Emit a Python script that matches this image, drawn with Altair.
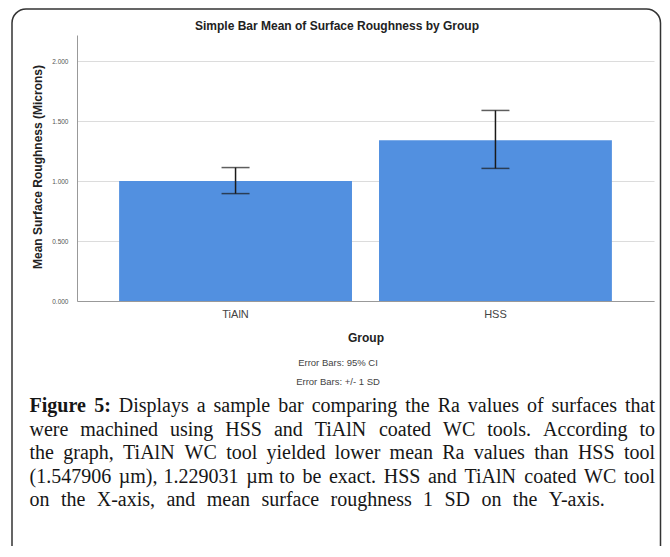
import altair as alt
import pandas as pd

# ---------------- data ----------------
groups = ["TiAlN", "HSS"]
means = [1.000, 1.340]
err_low = [0.895, 1.105]
err_high = [1.112, 1.588]
y_ticks = [0.0, 0.5, 1.0, 1.5, 2.0]

chart_title = "Simple Bar Mean of Surface Roughness by Group"
y_title = "Mean Surface Roughness (Microns)"
x_title = "Group"
notes = ["Error Bars: 95% CI", "Error Bars: +/- 1 SD"]

caption_lines = [
    "Figure 5: Displays a sample bar comparing the Ra values of surfaces that",
    "were machined using HSS and TiAlN coated WC tools. According to",
    "the graph, TiAlN WC tool yielded lower mean Ra values than HSS tool",
    "(1.547906 µm), 1.229031 µm to be exact. HSS and TiAlN coated WC tool",
    "on the X-axis, and mean surface roughness 1 SD on the Y-axis.",
]
bold_words = ["Figure", "5:"]

# ---------------- layout ----------------
W, H = 577, 266
PAD = {"left": 69, "top": 27, "right": 8, "bottom": 245}
BAR_COLOR = "#5290e0"
SANS = "Liberation Sans"
SERIF = "Liberation Serif"
CAP_FS = 20

# Times / Liberation Serif advance widths (1/1000 em)
REG = {" ": 250, "(": 333, ")": 333, ",": 250, "-": 333, ".": 250, "/": 278, ":": 278,
       "A": 722, "C": 667, "D": 722, "F": 556, "H": 722, "N": 722, "R": 667, "S": 556,
       "T": 611, "W": 944, "X": 722, "Y": 722, "µ": 500,
       "a": 444, "b": 500, "c": 444, "d": 500, "e": 444, "f": 333, "g": 500, "h": 500,
       "i": 278, "l": 278, "m": 778, "n": 500, "o": 500, "p": 500, "r": 333, "s": 389,
       "t": 278, "u": 500, "v": 500, "w": 722, "x": 500, "y": 500}
for dgt in "0123456789":
    REG[dgt] = 500
BOLD = {"F": 611, "i": 278, "g": 500, "u": 556, "r": 444, "e": 444, "5": 500, ":": 333, " ": 250}


def width(word, table):
    return sum(table.get(ch, 500) for ch in word) / 1000.0 * CAP_FS


cap_left = -47.5
cap_right = [578.0, 578.0, 578.0, 578.0, 530.0]
cap_base = [377, 400.5, 424, 447.5, 471]

rows = []
for li, line in enumerate(caption_lines):
    words = line.split(" ")
    wts = []
    for wi, w in enumerate(words):
        b = (li == 0 and wi < len(bold_words) and w == bold_words[wi])
        wts.append((w, b, width(w, BOLD if b else REG)))
    total = sum(t[2] for t in wts)
    gap = (cap_right[li] - cap_left - total) / (len(words) - 1)
    x = cap_left
    for w, b, wd in wts:
        rows.append({"word": w, "px": x, "py": cap_base[li], "bold": b})
        x += wd + gap
cap_df = pd.DataFrame(rows)

df = pd.DataFrame({"group": groups, "mean": means, "lo": err_low, "hi": err_high})

x_enc = alt.X(
    "group:N", sort=groups,
    scale=alt.Scale(paddingInner=0.104, paddingOuter=0.162),
    axis=alt.Axis(labelAngle=0, ticks=False, labelFontSize=11, labelColor="#444",
                  labelFont=SANS, labelPadding=7, domainColor="#999", grid=False,
                  title=x_title, titleFont=SANS, titleFontSize=12, titleFontWeight="bold",
                  titleColor="#222", titleX=288.5, titleY=36, titleAlign="center",
                  titleBaseline="middle"),
)
y_axis = alt.Axis(values=y_ticks, format=".3f", ticks=False, labelFontSize=6.5,
                  labelColor="#555", labelFont=SANS, labelPadding=9, domainColor="#999",
                  gridColor="#dcdcdc", gridWidth=1,
                  title=y_title, titleFont=SANS, titleFontSize=12, titleFontWeight="bold",
                  titleColor="#222", titleX=-40, titleY=131.5, titleAngle=270,
                  titleAlign="center", titleBaseline="middle")
y_scale = alt.Scale(domain=[0, 2.2167], nice=False)

base = alt.Chart(df)
bars = base.mark_bar(color=BAR_COLOR).encode(
    x=x_enc, y=alt.Y("mean:Q", scale=y_scale, axis=y_axis))
stems = base.mark_rule(color="#1a1a1a", strokeWidth=1.5).encode(
    x=x_enc, y=alt.Y("lo:Q", scale=y_scale, axis=y_axis), y2="hi:Q")
caps_lo = base.mark_tick(color="#1a1a1a", thickness=1.5, size=28).encode(
    x=x_enc, y=alt.Y("lo:Q", scale=y_scale, axis=y_axis))
caps_hi = base.mark_tick(color="#1a1a1a", thickness=1.5, size=28).encode(
    x=x_enc, y=alt.Y("hi:Q", scale=y_scale, axis=y_axis))


def label(txt, x, y, size, weight="normal", color="#222", font=SANS):
    return alt.Chart(pd.DataFrame({"t": [txt]})).mark_text(
        align="center", baseline="middle", fontSize=size, fontWeight=weight,
        color=color, font=font).encode(text="t:N", x=alt.value(x), y=alt.value(y))


title_layer = label(chart_title, 260, -8.8, 12, "bold", "#222")
note1 = label(notes[0], 261, 328, 9.5, "normal", "#444")
note2 = label(notes[1], 261, 347, 9.5, "normal", "#444")

frame = alt.Chart(pd.DataFrame({"a": [0]})).mark_rect(
    fillOpacity=0, stroke="#333", strokeWidth=1.5, cornerRadius=14).encode(
    x=alt.value(-65), x2=alt.value(583.5), y=alt.value(-26), y2=alt.value(560))

cap_reg = alt.Chart(cap_df[~cap_df["bold"]]).mark_text(
    align="left", baseline="alphabetic", font=SERIF, fontSize=CAP_FS, color="#161616").encode(
    x=alt.X("px:Q", scale=None, axis=None), y=alt.Y("py:Q", scale=None, axis=None),
    text="word:N")
cap_bold = alt.Chart(cap_df[cap_df["bold"]]).mark_text(
    align="left", baseline="alphabetic", font=SERIF, fontSize=CAP_FS, fontWeight="bold",
    color="#161616").encode(
    x=alt.X("px:Q", scale=None, axis=None), y=alt.Y("py:Q", scale=None, axis=None),
    text="word:N")

chart = alt.layer(
    frame, bars, stems, caps_lo, caps_hi, title_layer, note1, note2, cap_reg, cap_bold
).properties(
    width=W, height=H, autosize=alt.AutoSizeParams(type="none"), padding=PAD,
    background="white",
).configure_view(strokeWidth=0)

chart.save("out.html", embed_options={"renderer": "svg", "actions": False})
